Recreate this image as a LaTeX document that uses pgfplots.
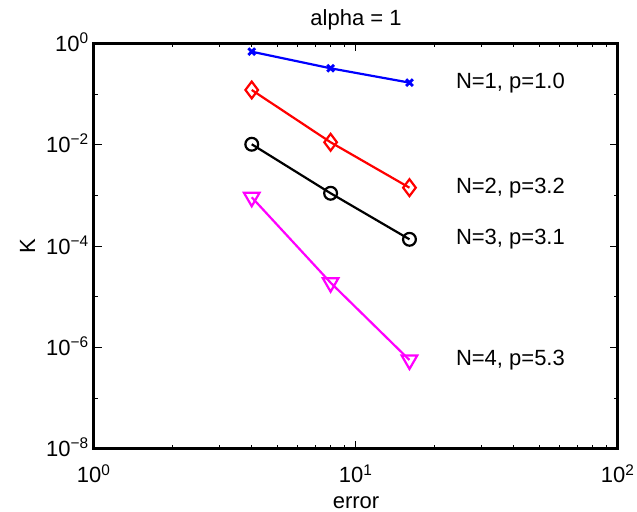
\documentclass[border=0pt]{standalone}
\usepackage{pgfplots}
\pgfplotsset{compat=1.18}
\usepackage{fontspec}
\setmainfont{Liberation Sans}
\definecolor{mmag}{rgb}{1,0,1}
\definecolor{mblue}{rgb}{0,0,1}
\definecolor{mred}{rgb}{1,0,0}
\begin{document}
\begin{tikzpicture}[font=\fontsize{11}{13}\selectfont]
\begin{loglogaxis}[
  scale only axis, width=262pt, height=202.75pt,
  at={(0,0)}, anchor=south west,
  xmin=1, xmax=100, ymin=1e-8, ymax=1,
  axis line style={line width=1.5pt, black},
  tick align=inside,
  tick style={line width=0.5pt, black},
  major tick length=4pt, minor tick length=2pt,
  xtick={1,10,100},
  xticklabels={10\textsuperscript{0},10\textsuperscript{1},10\textsuperscript{2}},
  minor xtick={2,3,4,5,6,7,8,9,20,30,40,50,60,70,80,90},
  ytick={1e-8,1e-6,1e-4,1e-2,1},
  yticklabels={10\textsuperscript{−8},10\textsuperscript{−6},10\textsuperscript{−4},10\textsuperscript{−2},10\textsuperscript{0}},
  minor ytick={1e-7,1e-5,1e-3,1e-1},
  xticklabel style={anchor=base, yshift=-17pt, inner sep=0pt},
  yticklabel style={anchor=base east, yshift=-3.9pt, xshift=-2.2pt, inner sep=0pt},
  title={alpha = 1},
  title style={at={(axis description cs:0.5,1)}, anchor=base, yshift=2.75pt, inner sep=0pt},
  xlabel={error},
  xlabel style={at={(axis description cs:0.5,0)}, anchor=base, yshift=-30pt, inner sep=0pt},
  ylabel={K},
  ylabel style={at={(axis description cs:-0.1126,0.5)}, anchor=base, inner sep=0pt},
  clip=false,
]
\addplot[mblue, line width=1.1pt, mark=x, mark size=2.4pt, mark options={solid, line width=1.4pt}]
  coordinates {(4,0.689) (8,0.324) (16,0.169)};
\addplot[mred, line width=1.1pt, mark=diamond, mark size=4.2pt, mark options={solid}]
  coordinates {(4,0.121) (8,0.01125) (16,0.00143)};
\addplot[black, line width=1.1pt, mark=o, mark size=3.2pt, mark options={solid}]
  coordinates {(4,0.01028) (8,0.00111) (16,1.37e-4)};
\addplot[mmag, line width=1.1pt, mark=triangle, mark size=4.5pt, mark options={solid, rotate=180}]
  coordinates {(4,9.25e-4) (8,1.91e-5) (16,5.7e-7)};
\node[anchor=west, inner sep=0pt] at (axis cs:24,0.169) {N=1, p=1.0};
\node[anchor=west, inner sep=0pt] at (axis cs:24,0.00143) {N=2, p=3.2};
\node[anchor=west, inner sep=0pt] at (axis cs:24,1.37e-4) {N=3, p=3.1};
\node[anchor=west, inner sep=0pt] at (axis cs:24,5.7e-7) {N=4, p=5.3};
\end{loglogaxis}
\pgfresetboundingbox
\path[use as bounding box] (-47pt,-31.5pt) rectangle (271.5pt,224.5pt);
\end{tikzpicture}
\end{document}
